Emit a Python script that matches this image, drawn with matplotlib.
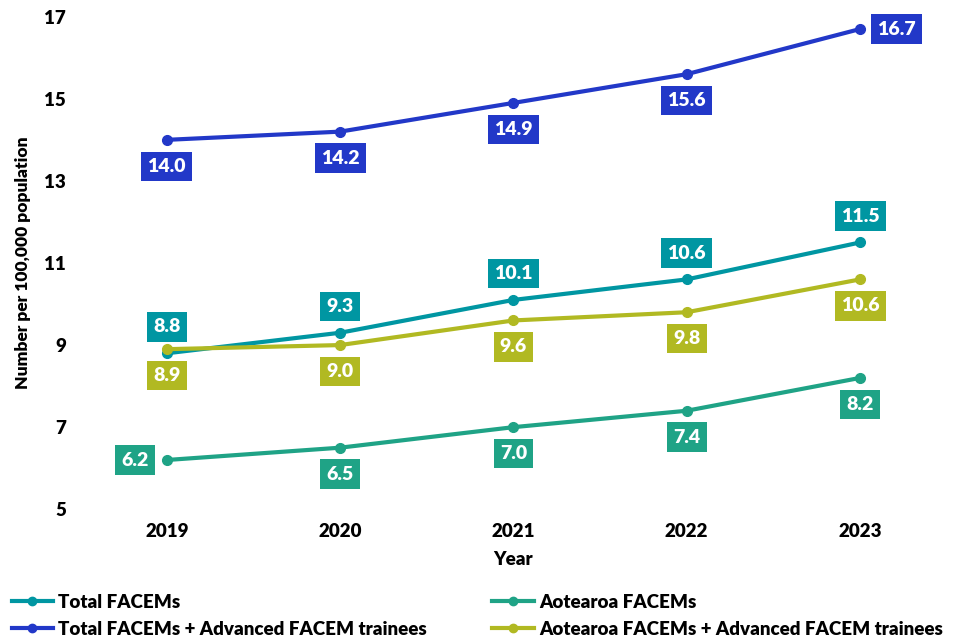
import matplotlib
matplotlib.use("Agg")
import matplotlib.pyplot as plt
from matplotlib.lines import Line2D

years = ["2019", "2020", "2021", "2022", "2023"]
total_facems = [8.8, 9.3, 10.1, 10.6, 11.5]
total_adv = [14.0, 14.2, 14.9, 15.6, 16.7]
aot_facems = [6.2, 6.5, 7.0, 7.4, 8.2]
aot_adv = [8.9, 9.0, 9.6, 9.8, 10.6]
yticks = [5, 7, 9, 11, 13, 15, 17]

series = [
    ("Total FACEMs", total_facems, "#0096A2", ["above"] * 5),
    ("Aotearoa FACEMs", aot_facems, "#1FA386", ["left", "below", "below", "below", "below"]),
    ("Total FACEMs + Advanced FACEM trainees", total_adv, "#2238C8", ["below", "below", "below", "below", "right"]),
    ("Aotearoa FACEMs + Advanced FACEM trainees", aot_adv, "#B1B922", ["below"] * 5),
]

plt.rcParams['font.family'] = ['Lato', 'DejaVu Sans']
fig = plt.figure(figsize=(9.77, 6.43), dpi=100)
ax = fig.add_axes([0.082, 0.208, 0.887, 0.766])

x = list(range(len(years)))
offsets = {"above": (0, 19), "below": (0, -19), "left": (-23, 0), "right": (26, 0)}
handles = []
for name, vals, col, pos in series:
    ax.plot(x, vals, color=col, lw=3, marker="o", ms=7, zorder=3)
    for xi, v, p in zip(x, vals, pos):
        dx, dy = offsets[p]
        ax.annotate(f"{v:.1f}", (xi, v), xytext=(dx, dy), textcoords="offset points",
                    ha="center", va="center", color="white", fontsize=14, fontweight="heavy",
                    bbox=dict(boxstyle="square,pad=0.32", fc=col, ec="none"), zorder=4)
    handles.append(Line2D([], [], color=col, lw=3, marker="o", ms=6))

ax.set_xlim(-0.5, len(years) - 0.5)
ax.set_ylim(5, 17)
ax.set_xticks(x)
ax.set_xticklabels(years)
ax.set_yticks(yticks)
ax.tick_params(length=0, labelsize=13.5, pad=10)
for lbl in ax.get_xticklabels() + ax.get_yticklabels():
    lbl.set_fontweight("heavy")
for s in ax.spines.values():
    s.set_visible(False)
ax.set_xlabel("Year", fontsize=13.5, fontweight="heavy", labelpad=8)
ax.set_ylabel("Number per 100,000 population", fontsize=12.5, fontweight="heavy", labelpad=10)

names = [s[0] for s in series]
common = dict(loc="lower left", frameon=False, handlelength=2.2, handletextpad=0.3,
              labelspacing=0.55, borderaxespad=0, borderpad=0.2,
              prop=dict(size=13.5, weight="heavy"))
leg1 = fig.legend([handles[0], handles[2]], [names[0], names[2]],
                  bbox_to_anchor=(0.008, 0.002), **common)
leg2 = fig.legend([handles[1], handles[3]], [names[1], names[3]],
                  bbox_to_anchor=(0.5, 0.002), **common)

fig.savefig("out.png", dpi=100)
